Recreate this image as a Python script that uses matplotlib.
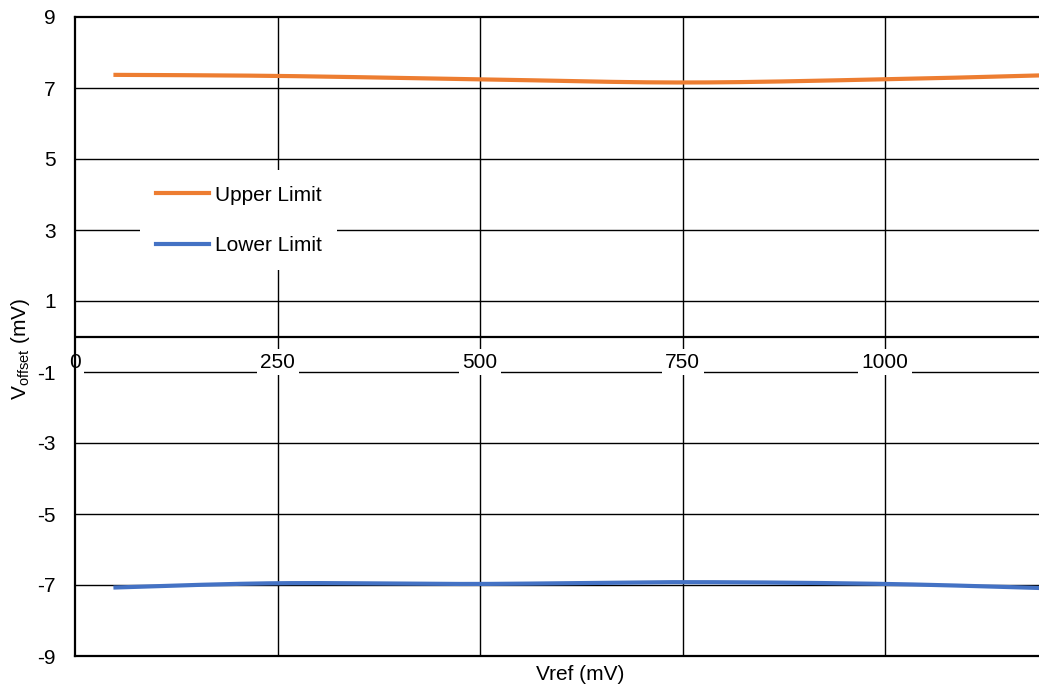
import matplotlib.pyplot as plt
import numpy as np

plt.rcParams['font.family'] = ['Liberation Sans', 'DejaVu Sans']
plt.rcParams['mathtext.fontset'] = 'custom'
plt.rcParams['mathtext.rm'] = 'Liberation Sans'

# Data
vref = [50, 250, 500, 750, 1000, 1200]
upper = [7.37, 7.34, 7.245, 7.155, 7.245, 7.36]
lower = [-7.07, -6.95, -6.97, -6.92, -6.97, -7.09]

x_ticks = [0, 250, 500, 750, 1000]
y_ticks = [-9, -7, -5, -3, -1, 1, 3, 5, 7, 9]


# Excel-like smoothed line (Catmull-Rom through the points)
def smooth(x, y, steps=40):
    P = np.column_stack([x, y]).astype(float)
    P = np.vstack([P[0], P, P[-1]])
    out = []
    for i in range(1, len(P) - 2):
        p0, p1, p2, p3 = P[i - 1], P[i], P[i + 1], P[i + 2]
        for t in np.linspace(0, 1, steps, endpoint=False):
            out.append(0.5 * (2 * p1 + (-p0 + p2) * t +
                              (2 * p0 - 5 * p1 + 4 * p2 - p3) * t ** 2 +
                              (-p0 + 3 * p1 - 3 * p2 + p3) * t ** 3))
    out.append(P[-2])
    out = np.array(out)
    return out[:, 0], out[:, 1]


fig = plt.figure(figsize=(10.39, 6.92), dpi=100)
ax = fig.add_axes([75 / 1039, 36 / 692, 964 / 1039, 639 / 692])

ux, uy = smooth(vref, upper)
lx, ly = smooth(vref, lower)
ax.plot(ux, uy, color='#ed7d31', lw=3, label='Upper Limit', zorder=3)
ax.plot(lx, ly, color='#4472c4', lw=3, label='Lower Limit', zorder=3)

ax.set_xlim(0, 1190)
ax.set_ylim(-9, 9)

# grid lines
for yv in y_ticks[1:-1]:
    ax.axhline(yv, color='black', lw=1, zorder=1)
for xv in x_ticks[1:]:
    ax.axvline(xv, color='black', lw=1, zorder=1)
ax.axhline(0, color='black', lw=1.6, zorder=2)

ax.set_yticks(y_ticks)
ax.set_yticklabels([str(v) for v in y_ticks], fontsize=15)
ax.tick_params(axis='y', length=0, pad=14)
ax.set_xticks([])

# x tick labels sit on the -1 grid line with white boxes
for xv in x_ticks:
    ax.text(xv, -0.72, str(xv), ha='center', va='center', fontsize=15,
            bbox=dict(facecolor='white', edgecolor='none', pad=2.5), zorder=2.5)

for s in ['left', 'top', 'bottom']:
    ax.spines[s].set_linewidth(1.6)
ax.spines['right'].set_visible(False)

ax.set_xlabel('Vref (mV)', fontsize=15)
ax.xaxis.set_label_coords(0.524, -0.014)
ax.set_ylabel(r'V$_{\mathrm{offset}}$ (mV)', fontsize=15)
ax.yaxis.set_label_coords(-0.045, 0.48)

leg = ax.legend(loc='upper left', bbox_to_anchor=(0.0674, 0.7606), fontsize=15,
                frameon=True, fancybox=False, edgecolor='none', framealpha=1,
                handlelength=2.55, handletextpad=0.3, labelspacing=1.5,
                borderpad=0.75, borderaxespad=0)
leg.get_frame().set_linewidth(0)

fig.savefig('out.png', dpi=100)
